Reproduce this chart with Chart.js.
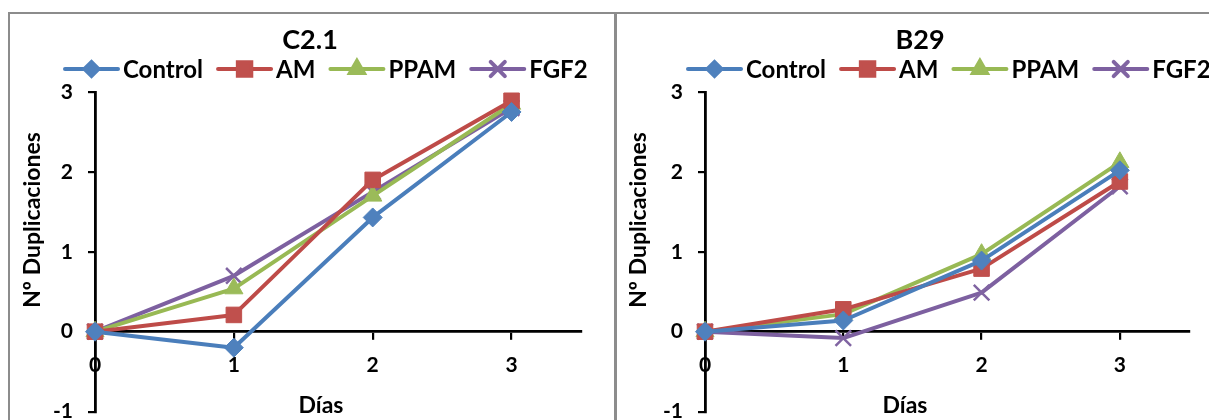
<!DOCTYPE html>
<html>
<head>
<meta charset="utf-8">
<script src="https://cdn.jsdelivr.net/npm/chart.js@4.4.1/dist/chart.umd.min.js"></script>
<style>
  html, body { margin: 0; padding: 0; background: #fff; overflow: hidden; width: 1209px; height: 420px; }
  .panel { position: absolute; top: 12px; height: 440px; border: 2px solid #8c8c8c; border-bottom: none; box-sizing: border-box; }
  #panelA { left: 8px; width: 609px; }
  #panelB { left: 614px; width: 640px; }
  canvas { position: absolute; top: 0; }
  #chartA { left: 0; }
  #chartB { left: 615px; }
</style>
</head>
<body>
<div class="panel" id="panelA"></div>
<div class="panel" id="panelB"></div>
<canvas id="chartA" width="615" height="440"></canvas>
<canvas id="chartB" width="594" height="440"></canvas>
<script>
const days = [0, 1, 2, 3];
const seriesNames = ['Control', 'AM', 'PPAM', 'FGF2'];

// C2.1
const c21Control = [0, -0.20, 1.43, 2.75];
const c21AM      = [0, 0.21, 1.90, 2.89];
const c21PPAM    = [0, 0.54, 1.70, 2.85];
const c21FGF2    = [0, 0.70, 1.75, 2.80];

// B29
const b29Control = [0, 0.14, 0.89, 2.02];
const b29AM      = [0, 0.28, 0.79, 1.88];
const b29PPAM    = [0, 0.22, 0.97, 2.12];
const b29FGF2    = [0, -0.08, 0.49, 1.82];

const FONT = 'Lato, "Open Sans", sans-serif';

// line colour, marker fill, marker shape, marker radius (plot / legend)
const looks = [
  {line: '#4a7ebb', fill: '#4f81bd', style: 'rectRot',  r: 9.5,  lr: 7,   bw: 1},
  {line: '#be4b48', fill: '#c0504d', style: 'rect',     r: 11,   lr: 9.5, bw: 1},
  {line: '#98b954', fill: '#9bbb59', style: 'triangle', r: 10.5, lr: 8,   bw: 1},
  {line: '#7d60a0', fill: '#8064a2', style: 'crossRot', r: 11,   lr: 10,  bw: 2.5, lbw: 1.2}
];

// title, legend row and axis titles
const panelText = {
  id: 'panelText',
  afterDraw(chart, args, opts) {
    const ctx = chart.ctx;
    ctx.save();
    ctx.fillStyle = '#000';
    ctx.textBaseline = 'middle';
    ctx.textAlign = 'center';
    ctx.font = 'bold 27px ' + FONT;
    ctx.fillText(opts.title, opts.titleX, 40);

    ctx.font = 'bold 24px ' + FONT;
    const ly = 69;
    let x = opts.legendX;
    chart.data.datasets.forEach((ds, i) => {
      const lk = looks[i];
      ctx.strokeStyle = lk.line;
      ctx.lineWidth = 4;
      ctx.lineCap = 'round';
      ctx.beginPath();
      ctx.moveTo(x, ly);
      ctx.lineTo(x + 53, ly);
      ctx.stroke();
      ctx.fillStyle = lk.fill;
      ctx.strokeStyle = lk.fill;
      Chart.helpers.drawPoint(ctx, {pointStyle: lk.style, radius: lk.lr, rotation: 0, borderWidth: lk.lbw || 1}, x + 26.5, ly);
      ctx.fillStyle = '#000';
      ctx.textAlign = 'left';
      ctx.fillText(ds.label, x + 58, ly + 1);
      x += 58 + ctx.measureText(ds.label).width + 15;
    });

    ctx.textAlign = 'center';
    ctx.font = 'bold 23px ' + FONT;
    ctx.fillText(opts.xTitle, opts.xTitleX, 406);
    ctx.translate(opts.yTitleX, 220);
    ctx.rotate(-Math.PI / 2);
    ctx.fillText(opts.yTitle, 0, 0);
    ctx.restore();
  }
};

function makeDatasets(series) {
  return series.map((vals, i) => ({
    label: seriesNames[i],
    data: days.map((d, k) => ({x: d, y: vals[k]})),
    borderColor: looks[i].line,
    borderWidth: 4,
    borderJoinStyle: 'round',
    borderCapStyle: 'round',
    pointStyle: looks[i].style,
    pointRadius: looks[i].r,
    pointBackgroundColor: looks[i].fill,
    pointBorderColor: looks[i].fill,
    pointBorderWidth: looks[i].bw,
    tension: 0,
    clip: false
  }));
}

function drawPanel(id, series, axisWidth, rightPad, text) {
  const tickFont = {family: FONT, weight: 'bold', size: 21};
  return new Chart(document.getElementById(id), {
    type: 'line',
    data: {datasets: makeDatasets(series)},
    plugins: [panelText],
    options: {
      responsive: false,
      animation: false,
      events: [],
      layout: {padding: {left: 0, right: rightPad, top: 92, bottom: 28.4}},
      plugins: {
        legend: {display: false},
        tooltip: {enabled: false},
        panelText: text
      },
      scales: {
        x: {
          type: 'linear',
          position: {y: 0},
          min: 0,
          max: 3.5,
          afterBuildTicks: s => { s.ticks = s.ticks.filter(t => Number.isInteger(t.value)); },
          border: {color: '#000', width: 2.8},
          grid: {drawOnChartArea: false, color: '#000', lineWidth: 2.2, tickLength: 7},
          ticks: {stepSize: 1, color: '#000', font: tickFont, padding: 14, maxRotation: 0}
        },
        y: {
          type: 'linear',
          position: 'left',
          min: -1,
          max: 3,
          afterFit: s => { s.width = axisWidth; },
          border: {color: '#000', width: 2.8},
          grid: {drawOnChartArea: false, color: '#000', lineWidth: 2.2, tickLength: 7},
          ticks: {stepSize: 1, color: '#000', font: tickFont, padding: 15}
        }
      }
    }
  });
}

drawPanel('chartA', [c21Control, c21AM, c21PPAM, c21FGF2], 95, 34,
  {title: 'C2.1', titleX: 310, legendX: 65, xTitle: 'Días', xTitleX: 321, yTitle: 'Nº Duplicaciones', yTitleX: 33});
drawPanel('chartB', [b29Control, b29AM, b29PPAM, b29FGF2], 90, 20,
  {title: 'B29', titleX: 305, legendX: 73, xTitle: 'Días', xTitleX: 290, yTitle: 'Nº Duplicaciones', yTitleX: 24});
</script>
</body>
</html>
